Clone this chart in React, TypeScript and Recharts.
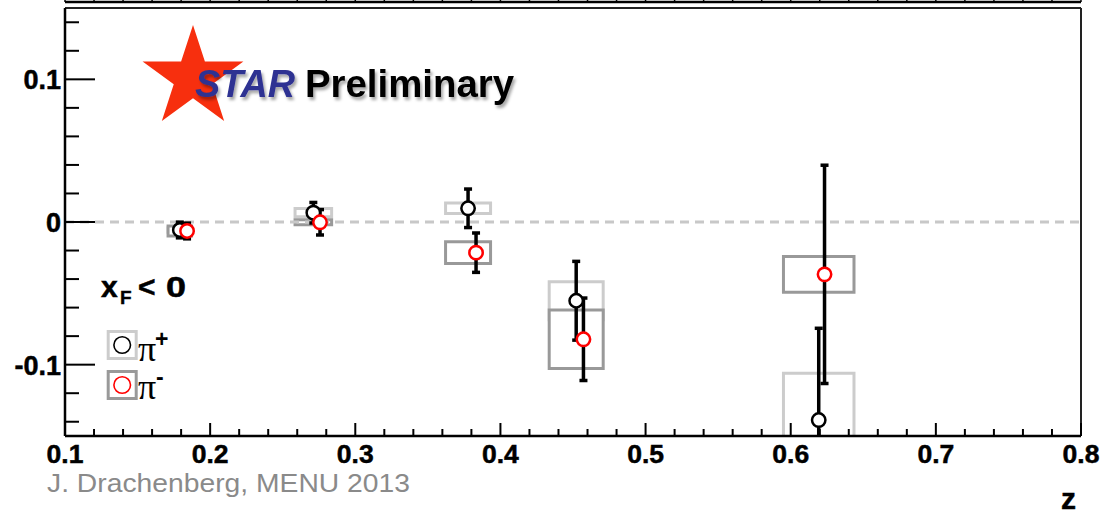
import React from "react";
import {
  ComposedChart,
  Scatter,
  ErrorBar,
  XAxis,
  YAxis,
  ReferenceLine,
  ReferenceArea,
} from "recharts";

// pi+ (black) points
const zPlus = [0.1791, 0.2711, 0.3777, 0.4522, 0.6193];
const aPlus = [-0.0056, 0.0065, 0.0096, -0.0552, -0.1388];
const statPlus = [0.0055, 0.0072, 0.0135, 0.0276, 0.0643];
const sysPlus = [0.0015, 0.0029, 0.0037, 0.0133, 0.0327];

// pi- (red) points
const zMinus = [0.1841, 0.2757, 0.3832, 0.4572, 0.6233];
const aMinus = [-0.0063, -0.0002, -0.0215, -0.0822, -0.0367];
const statMinus = [0.0055, 0.0089, 0.0138, 0.0289, 0.0765];
const sysMinus = [0.0035, 0.0018, 0.0076, 0.0205, 0.0126];

// half width of the systematic boxes (in z)
const boxHalfWidth = [0.0081, 0.0126, 0.0155, 0.0186, 0.0243];

const xMajorTicks = [0.1, 0.2, 0.3, 0.4, 0.5, 0.6, 0.7, 0.8];
const yMajorTicks = [-0.1, 0, 0.1];
const yTickLabels = ["-0.1", "0", "0.1"];

const xTicks = Array.from({ length: 36 }, (_, i) => Math.round((0.1 + i * 0.02) * 100) / 100);
const yTicks = Array.from({ length: 15 }, (_, i) => Math.round((-0.14 + i * 0.02) * 100) / 100);

const plusData = zPlus.map((z, i) => ({ z, a: aPlus[i], err: statPlus[i] }));
const minusData = zMinus.map((z, i) => ({ z, a: aMinus[i], err: statMinus[i] }));

const near = (a: number, b: number) => Math.abs(a - b) < 1e-6;
const SANS = "'Liberation Sans', Arial, Helvetica, sans-serif";
const SERIF = "'Liberation Serif', 'DejaVu Serif', 'Times New Roman', serif";

const XTick = (props: any) => {
  const { x, y, payload } = props;
  const v = payload.value;
  const major = xMajorTicks.some((t) => near(t, v));
  return (
    <g>
      <line x1={x} x2={x} y1={y} y2={y - (major ? 13 : 7)} stroke="#000" strokeWidth={2} />
      {major && (
        <text x={x} y={y + 27} textAnchor="middle" fontFamily={SANS} fontWeight="bold" fontSize={26.5} fill="#000" stroke="#000" strokeWidth={0.5}>
          {v.toFixed(1)}
        </text>
      )}
    </g>
  );
};

const YTick = (props: any) => {
  const { x, y, payload } = props;
  const v = payload.value;
  const idx = yMajorTicks.findIndex((t) => near(t, v));
  const major = idx >= 0;
  return (
    <g>
      <line x1={x} x2={x + (major ? 30 : 14)} y1={y} y2={y} stroke="#000" strokeWidth={2} />
      {major && (
        <text x={x - 4} y={y + 10} textAnchor="end" fontFamily={SANS} fontWeight="bold" fontSize={27} fill="#000" stroke="#000" strokeWidth={0.5}>
          {yTickLabels[idx]}
        </text>
      )}
    </g>
  );
};

const makeMarker = (color: string) => (props: any) => {
  const { cx, cy } = props;
  if (cx == null || cy == null) return <g />;
  return <circle cx={cx} cy={cy} r={6.7} fill="#fff" stroke={color} strokeWidth={2.5} />;
};

const starPoints = (cx: number, cy: number, R: number) =>
  Array.from({ length: 10 }, (_, i) => {
    const ang = ((-90 + i * 36) * Math.PI) / 180;
    const r = i % 2 === 0 ? R : R * 0.382;
    return `${cx + r * Math.cos(ang)},${cy + r * Math.sin(ang)}`;
  }).join(" ");

const Overlay = () => (
  <svg
    width={1112}
    height={516}
    style={{ position: "absolute", left: 0, top: 0, pointerEvents: "none" }}
  >
    <defs>
      <clipPath id="plotClip" clipPathUnits="userSpaceOnUse">
        <rect x={65} y={8} width={1016} height={428} />
      </clipPath>
      <filter id="shadow" x="-10%" y="-30%" width="130%" height="170%">
        <feDropShadow dx="2" dy="3" stdDeviation="1.8" floodColor="#000" floodOpacity="0.35" />
      </filter>
    </defs>
    <polygon points={starPoints(193, 78, 53)} fill="#f72f0e" />
    <text x={195} y={97} fontFamily={SANS} fontWeight="bold" fontStyle="italic" fontSize={38} fill="#2e3192" textLength={100} lengthAdjust="spacingAndGlyphs" filter="url(#shadow)">
      STAR
    </text>
    <text x={305} y={97} fontFamily={SANS} fontWeight="bold" fontSize={38} fill="#000" textLength={209} lengthAdjust="spacingAndGlyphs" filter="url(#shadow)">
      Preliminary
    </text>

    {/* x_F < 0 */}
    <text x={101} y={297} fontFamily={SANS} fontWeight="bold" fontSize={30} fill="#000" stroke="#000" strokeWidth={0.5}>x</text>
    <text x={120} y={304} fontFamily={SANS} fontWeight="bold" fontSize={19} fill="#000" stroke="#000" strokeWidth={0.4}>F</text>
    <text x={138} y={297} fontFamily={SANS} fontWeight="bold" fontSize={30} fill="#000" stroke="#000" strokeWidth={0.5}>&lt;</text>
    <text x={166} y={297} fontFamily={SANS} fontWeight="bold" fontSize={30} fill="#000" stroke="#000" strokeWidth={0.5} textLength={20} lengthAdjust="spacingAndGlyphs">0</text>

    {/* legend */}
    <rect x={108.2} y={331.5} width={28} height={27} fill="#fff" stroke="#ccc" strokeWidth={3} />
    <circle cx={122.2} cy={345} r={8.3} fill="none" stroke="#000" strokeWidth={1.6} />
    <text x={138} y={361} fontFamily={SERIF} fontSize={36} fill="#000">π</text>
    <text x={155} y={347} fontFamily={SANS} fontWeight="bold" fontSize={23} fill="#000">+</text>

    <rect x={108.2} y={371.5} width={28} height={27} fill="#fff" stroke="#999" strokeWidth={3} />
    <circle cx={122.2} cy={385} r={8.3} fill="none" stroke="#ff0000" strokeWidth={1.6} />
    <text x={138} y={399} fontFamily={SERIF} fontSize={36} fill="#000">π</text>
    <text x={156} y={385} fontFamily={SANS} fontWeight="bold" fontSize={23} fill="#000">-</text>

    <text x={47} y={492} fontFamily={SANS} fontSize={26} fill="#8a8a8a" textLength={363} lengthAdjust="spacingAndGlyphs">
      J. Drachenberg, MENU 2013
    </text>
    <text x={1061} y={509} fontFamily={SANS} fontWeight="bold" fontSize={30} fill="#000" stroke="#000" strokeWidth={0.5}>z</text>
  </svg>
);

const App = () => {
  return (
    <div style={{ position: "absolute", left: 0, top: 0, width: 1112, height: 516, background: "#fff" }}>
      <style>{`.recharts-errorBar, .recharts-errorBars { clip-path: url(#plotClip); }`}</style>
      <ComposedChart width={1112} height={516} margin={{ top: 8, right: 31, bottom: 0, left: 0 }}>
        <XAxis
          dataKey="z"
          type="number"
          domain={[0.1, 0.8]}
          ticks={xTicks}
          interval={0}
          allowDataOverflow
          height={80}
          tickSize={0}
          tickMargin={0}
          tickLine={false}
          axisLine={{ stroke: "#000", strokeWidth: 2.5 }}
          tick={<XTick />}
        />
        <YAxis
          dataKey="a"
          type="number"
          domain={[-0.15, 0.15]}
          ticks={yTicks}
          interval={0}
          allowDataOverflow
          width={65}
          tickSize={0}
          tickMargin={0}
          tickLine={false}
          axisLine={{ stroke: "#000", strokeWidth: 2.5 }}
          tick={<YTick />}
        />

        <ReferenceLine y={0} stroke="#c8c8c8" strokeWidth={3} strokeDasharray="9 6" />

        {/* systematic boxes: pi+ light, pi- dark */}
        {zPlus.map((z, i) => (
          <ReferenceArea
            key={`sp-${i}`}
            x1={z - boxHalfWidth[i]}
            x2={z + boxHalfWidth[i]}
            y1={aPlus[i] - sysPlus[i]}
            y2={aPlus[i] + sysPlus[i]}
            fill="#fff"
            fillOpacity={1}
            stroke="#cccccc"
            strokeWidth={3}
            ifOverflow="hidden"
          />
        ))}
        {zPlus.map((z, i) => (
          <ReferenceArea
            key={`sm-${i}`}
            x1={z - boxHalfWidth[i]}
            x2={z + boxHalfWidth[i]}
            y1={aMinus[i] - sysMinus[i]}
            y2={aMinus[i] + sysMinus[i]}
            fill="#fff"
            fillOpacity={1}
            stroke="#999999"
            strokeWidth={3}
            ifOverflow="hidden"
          />
        ))}

        {/* frame */}
        <ReferenceLine y={0.15} stroke="#222" strokeWidth={2} />
        <ReferenceLine x={0.8} stroke="#222" strokeWidth={2} />

        {/* bottom of the panel above */}
        <ReferenceLine y={0.15421} stroke="#000" strokeWidth={2.5} ifOverflow="visible" />
        {xTicks.map((t) => (
          <ReferenceLine
            key={`top-${t}`}
            segment={[
              { x: t, y: 0.15421 },
              { x: t, y: 0.1565 },
            ]}
            stroke="#000"
            strokeWidth={1.5}
            ifOverflow="visible"
          />
        ))}

        <Scatter data={plusData} shape={makeMarker("#000")} isAnimationActive={false}>
          <ErrorBar dataKey="err" direction="y" width={4} stroke="#000" strokeWidth={3.5} isAnimationActive={false} />
        </Scatter>
        <Scatter data={minusData} shape={makeMarker("#ff0000")} isAnimationActive={false}>
          <ErrorBar dataKey="err" direction="y" width={4} stroke="#000" strokeWidth={3.5} isAnimationActive={false} />
        </Scatter>
      </ComposedChart>
      <Overlay />
    </div>
  );
};

export default App;
